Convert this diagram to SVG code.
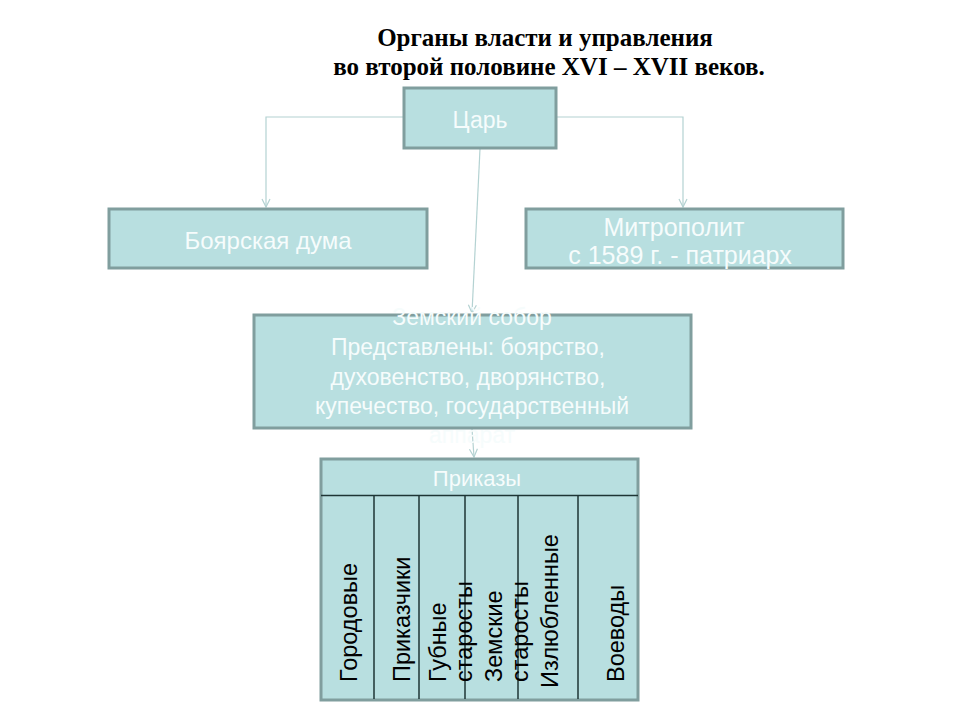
<svg xmlns="http://www.w3.org/2000/svg" width="960" height="720" viewBox="0 0 960 720">
<defs>
<style>
.box{fill:#b8dfe0;stroke:#809e9e;stroke-width:3}
.wt{font-family:"Liberation Sans",Arial,sans-serif;font-size:23px;fill:#f6fcfc;text-anchor:middle}
.vt{font-family:"Liberation Sans",Arial,sans-serif;font-size:23.5px;fill:#000}
.ttl{font-family:"Liberation Serif","Times New Roman",serif;font-size:25px;font-weight:bold;fill:#000;text-anchor:middle}
.con{fill:none;stroke:#b4d2d2;stroke-width:1.2}
.inner{stroke:#1e3535;stroke-width:1.5}
</style>
<marker id="arr" viewBox="0 0 10 10" refX="9" refY="5" markerWidth="10" markerHeight="10" orient="auto" markerUnits="userSpaceOnUse">
<path d="M1,1 L9,5 L1,9" fill="none" stroke="#b4d2d2" stroke-width="1.2"/>
</marker>
</defs>
<rect width="960" height="720" fill="#fff"/>
<g id="title">
<text class="ttl" x="545" y="46">Органы власти и управления</text>
<text class="ttl" x="549" y="75">во второй половине XVI – XVII веков.</text>
</g>
<g id="connectors">
<path class="con" d="M404,117 H266 V207" marker-end="url(#arr)"/>
<path class="con" d="M556,117 H683 V207" marker-end="url(#arr)"/>
<path class="con" d="M480,149 L472,313" marker-end="url(#arr)"/>
<path class="con" d="M472,429 L474,457" marker-end="url(#arr)"/>
</g>
<g id="tsar">
<rect class="box" x="404" y="88" width="152" height="60"/>
<text class="wt" x="480" y="128">Царь</text>
</g>
<g id="duma">
<rect class="box" x="109" y="209" width="318" height="59"/>
<text class="wt" x="268" y="249" style="font-size:24px">Боярская дума</text>
</g>
<g id="metropolit">
<rect class="box" x="526" y="209" width="317" height="59"/>
<text class="wt" x="674" y="236" style="font-size:25px">Митрополит</text>
<text class="wt" x="680" y="264" style="font-size:25px">с 1589 г. - патриарх</text>
</g>
<g id="sobor">
<rect class="box" x="254" y="315" width="437" height="113"/>
<text class="wt" x="472" y="325">Земский собор</text>
<text class="wt" x="468" y="355">Представлены: боярство,</text>
<text class="wt" x="468" y="385">духовенство, дворянство,</text>
<text class="wt" x="472" y="414">купечество, государственный</text>
<text class="wt" x="472" y="443">аппарат</text>
</g>
<g id="prikazy">
<rect class="box" x="321" y="459" width="317" height="241"/>
<line class="inner" x1="321" y1="495.5" x2="638" y2="495.5"/>
<line class="inner" x1="374" y1="495.5" x2="374" y2="699"/>
<line class="inner" x1="419" y1="495.5" x2="419" y2="699"/>
<line class="inner" x1="465" y1="495.5" x2="465" y2="699"/>
<line class="inner" x1="518" y1="495.5" x2="518" y2="699"/>
<line class="inner" x1="578" y1="495.5" x2="578" y2="699"/>
<text class="wt" x="477" y="486" style="font-size:22px">Приказы</text>
<text class="vt" transform="translate(357,682) rotate(-90)">Городовые</text>
<text class="vt" transform="translate(410,682) rotate(-90)">Приказчики</text>
<text class="vt" transform="translate(446,682) rotate(-90)">Губные</text>
<text class="vt" transform="translate(472,682) rotate(-90)">старосты</text>
<text class="vt" transform="translate(502,682) rotate(-90)">Земские</text>
<text class="vt" transform="translate(528,682) rotate(-90)">старосты</text>
<text class="vt" transform="translate(558,688) rotate(-90)">Излюбленные</text>
<text class="vt" transform="translate(624,682) rotate(-90)">Воеводы</text>
</g>
</svg>
